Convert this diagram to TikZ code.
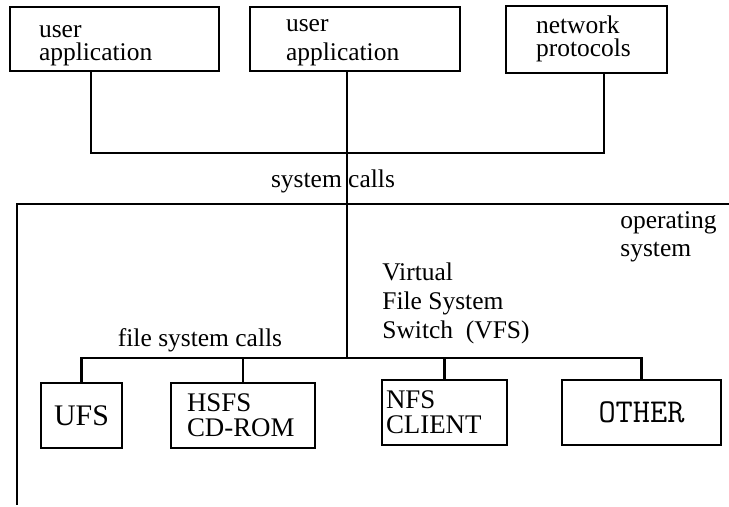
\documentclass[tikz,border=0pt]{standalone}
\usepackage{fontspec}
\setmainfont{Liberation Serif}
\usetikzlibrary{positioning}

\begin{document}
\begin{tikzpicture}[
    font=\fontsize{14.5}{13}\selectfont,
    wire/.style={line width=1.2pt},
    appbox/.style={draw, line width=1.5pt, minimum height=1.28cm, inner sep=0pt},
    boxtext/.style={inner sep=0pt, align=left},
    fsbox/.style={draw, line width=1.5pt, minimum height=1.3cm, inner ysep=0pt,
        font=\fontsize{15.3}{14}\selectfont},
    textlabel/.style={inner sep=0pt, align=left, anchor=west}
]

    % --- Canvas ---
    \useasboundingbox (0,0) rectangle (14.58,10.12);

    % --- Top row: programs above the kernel ---
    \node[appbox, minimum width=4.18cm] (app1) at (2.29,9.34) {};
    \node[appbox, minimum width=4.20cm] (app2) at (7.10,9.34) {};
    \node[appbox, minimum width=3.22cm, minimum height=1.34cm] (proto) at (11.73,9.33) {};
    % texts sit in the upper left of each box
    \node[boxtext, font=\fontsize{14.5}{13.2}\selectfont, below right=0.38cm and 0.60cm of app1.north west] (app1text) {user\\application};
    \node[boxtext, font=\fontsize{14.5}{16.5}\selectfont, below right=0.26cm and 0.74cm of app2.north west] (app2text) {user\\application};
    \node[boxtext, font=\fontsize{14.5}{13.2}\selectfont, below right=0.22cm and 0.62cm of proto.north west] (prototext) {network\\protocols};

    % --- Coordinates of the joins ---
    \coordinate (bend1) at (1.82,7.06);
    \coordinate (bend3) at (12.08,7.06);
    % VFS junction on the file system bus
    \coordinate (hub) at (6.94,2.96);

    % --- System call lines ---
    \draw[wire] (app1.south -| bend1) -- (bend1) -- (bend3) -- (proto.south -| bend3);
    \draw[wire] (app2.south -| hub) -- (hub);
    \node (syscalls) at (6.66,6.50) {system calls};

    % --- Operating system boundary ---
    \coordinate (osright) at (14.58,6.04);
    \coordinate (oscorner) at (0.34,6.04);
    \coordinate (osbottom) at (0.34,0.02);
    \draw[wire] (osright) -- (oscorner) -- (osbottom);
    \node[textlabel, font=\fontsize{14.5}{16}\selectfont] (os) at (12.4,5.38) {operating\\system};

    % --- Virtual file system switch ---
    \node[textlabel, font=\fontsize{14.5}{16.5}\selectfont] (vfs) at (7.64,4.05) {Virtual\\File System\\Switch\ \ (VFS)};
    \node (fscalls) at (4.00,3.32) {file system calls};

    % --- File system types ---
    \node[fsbox, minimum width=1.62cm, font=\fontsize{17}{17}\selectfont] (ufs) at (1.63,1.81) {UFS};
    \node[fsbox, align=left, text width=2.24cm, inner xsep=0.32cm] (hsfs) at (4.86,1.81) {HSFS\\CD-ROM};
    \node[fsbox, align=left, text width=2.34cm, inner xsep=0.08cm] (nfs) at (8.89,1.87) {NFS\\CLIENT};
    \node[fsbox, minimum width=3.18cm, font=\ttfamily\fontsize{19}{19}\selectfont] (other) at (12.83,1.87) {OTHER};

    % --- File system bus ---
    \draw[wire] (ufs.north) -- (ufs.north |- hub) -- (other.north |- hub) -- (other.north);
    \foreach \fs in {hsfs,nfs}
        \draw[wire] (\fs.north |- hub) -- (\fs.north);

\end{tikzpicture}
\end{document}
